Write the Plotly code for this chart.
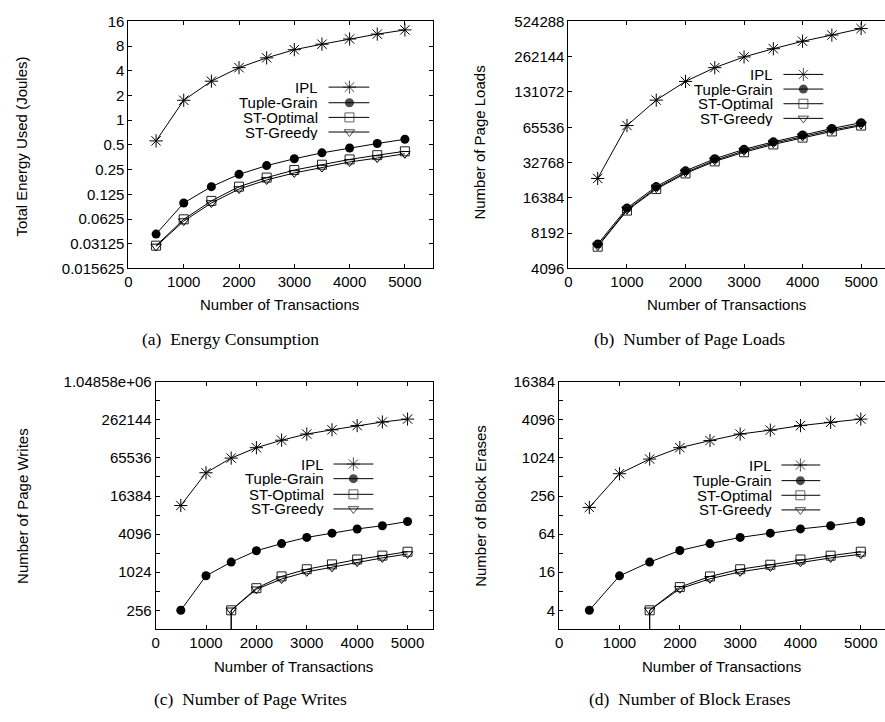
import math
import plotly.graph_objects as go

W, H = 885, 722

# ---------------- data ----------------
transactions = [500, 1000, 1500, 2000, 2500, 3000, 3500, 4000, 4500, 5000]
# ST series in (c)/(d): line drops below the axis floor at 1500
st_transactions = [1500, 1500, 2000, 2500, 3000, 3500, 4000, 4500, 5000]

series_names = ["IPL", "Tuple-Grain", "ST-Optimal", "ST-Greedy"]

# (a) Energy consumption (Joules)
energy_ipl = [0.56, 1.75, 2.99, 4.37, 5.75, 7.23, 8.44, 9.77, 11.2, 12.6]
energy_tuple = [0.041, 0.098, 0.155, 0.219, 0.28, 0.339, 0.40, 0.458, 0.52, 0.586]
energy_opt = [0.0296, 0.062, 0.104, 0.155, 0.20, 0.247, 0.287, 0.333, 0.375, 0.418]
energy_greedy = [0.029, 0.059, 0.098, 0.145, 0.187, 0.228, 0.265, 0.31, 0.346, 0.39]

# (b) Number of page loads
loads_ipl = [23990, 67800, 111700, 161400, 211400, 261000, 306500, 355000, 400900, 455400]
loads_tuple = [6608, 13400, 20450, 27860, 35290, 42500, 49220, 56260, 63960, 71760]
loads_opt = [6278, 12760, 19480, 26470, 33530, 40120, 46760, 53500, 60390, 67770]
loads_greedy = [6370, 13000, 19850, 27000, 34200, 41200, 47900, 54700, 62000, 69000]

# (c) Number of page writes
writes_ipl = [11585, 38180, 65080, 95030, 124850, 156200, 182100, 212400, 241900, 269200]
writes_tuple = [256, 898, 1478, 2235, 2900, 3631, 4234, 4940, 5558, 6481]
writes_opt = [1, 256, 572, 879, 1140, 1361, 1625, 1872, 2157]
writes_greedy = [1, 256, 551, 798, 1036, 1223, 1477, 1723, 1987]

# (d) Number of block erases
erases_ipl = [169, 576, 982, 1485, 1925, 2440, 2811, 3318, 3735, 4205]
erases_tuple = [4, 14.0, 23.1, 35.3, 45.3, 56.7, 66.2, 77.2, 86.8, 101.3]
erases_opt = [0.5, 4, 9.3, 13.7, 17.8, 21.0, 25.4, 29.2, 33.7]
erases_greedy = [0.5, 4, 8.75, 12.6, 16.2, 19.3, 23.1, 26.9, 30.7]

x_ticks = [0, 1000, 2000, 3000, 4000, 5000]

energy_ticks = [0.015625, 0.03125, 0.0625, 0.125, 0.25, 0.5, 1, 2, 4, 8, 16]
energy_labels = ["0.015625", "0.03125", "0.0625", "0.125", "0.25", "0.5", "1", "2", "4", "8", "16"]
loads_ticks = [4096, 8192, 16384, 32768, 65536, 131072, 262144, 524288]
loads_labels = ["4096", "8192", "16384", "32768", "65536", "131072", "262144", "524288"]
writes_ticks = [128, 256, 512, 1024, 2048, 4096, 8192, 16384, 32768, 65536, 131072, 262144, 524288, 1048576]
writes_labels = ["", "256", "", "1024", "", "4096", "", "16384", "", "65536", "", "262144", "", "1.04858e+06"]
erases_ticks = [2, 4, 8, 16, 32, 64, 128, 256, 512, 1024, 2048, 4096, 8192, 16384]
erases_labels = ["", "4", "", "16", "", "64", "", "256", "", "1024", "", "4096", "", "16384"]

# ---------------- styles ----------------
marker_style = {
    "IPL": dict(symbol="asterisk-open", size=11, color="black", line=dict(width=1, color="black")),
    "Tuple-Grain": dict(symbol="circle", size=9, color="black", line=dict(width=0)),
    "ST-Optimal": dict(symbol="square-open", size=9, color="#222", line=dict(width=1, color="#222")),
    "ST-Greedy": dict(symbol="triangle-down-open", size=9, color="black", line=dict(width=1, color="black")),
}

SANS = "Liberation Sans, Arial, Helvetica, sans-serif"
SERIF = "Liberation Serif, Times New Roman, serif"
FS = 15


def px_x(x):
    return x / W


def px_y(y):
    return 1 - y / H


fig = go.Figure()

panels = [
    ("", [transactions] * 4, [energy_ipl, energy_tuple, energy_opt, energy_greedy]),
    ("2", [transactions] * 4, [loads_ipl, loads_tuple, loads_opt, loads_greedy]),
    ("3", [transactions, transactions, st_transactions, st_transactions],
     [writes_ipl, writes_tuple, writes_opt, writes_greedy]),
    ("4", [transactions, transactions, st_transactions, st_transactions],
     [erases_ipl, erases_tuple, erases_opt, erases_greedy]),
]

for suffix, xs, ys in panels:
    for name, xv, yv in zip(series_names, xs, ys):
        fig.add_trace(go.Scatter(
            x=xv, y=yv, name=name, mode="lines+markers",
            line=dict(color="black", width=1),
            marker=marker_style[name],
            xaxis="x" + suffix, yaxis="y" + suffix,
            showlegend=False,
        ))

# ---------------- legend keys (gnuplot style: text, then sample) ----------------
legend_layout = [
    # text right edge, line x0, marker x, line x1, row y positions
    (316, 326, 347, 367, [80, 96, 111, 126]),
    (773, 783, 803, 823, [67, 82, 97, 112]),
    (322, 331, 351, 371, [466, 481, 497, 512]),
    (772, 781, 800, 820, [467, 483, 498, 513]),
]

annotations = []
for tx, lx0, mx, lx1, rows in legend_layout:
    for name, ry in zip(series_names, rows):
        fig.add_trace(go.Scatter(
            x=[lx0, mx, lx1], y=[ry, ry, ry], mode="lines+markers",
            line=dict(color="black", width=1),
            marker=dict(marker_style[name], size=[0, marker_style[name]["size"], 0]),
            xaxis="x5", yaxis="y5", showlegend=False, hoverinfo="skip",
        ))
        annotations.append(dict(
            x=px_x(tx), y=px_y(ry), xref="paper", yref="paper",
            text=name, showarrow=False, xanchor="right", yanchor="middle",
            height=15, valign="middle", borderpad=0,
            font=dict(family=SANS, size=FS, color="black"),
        ))


def xaxis(domain, rng):
    return dict(
        domain=domain, range=rng, tickvals=x_ticks, ticks="inside", ticklen=4,
        tickcolor="black", showline=True, linecolor="black", linewidth=1,
        mirror="ticks", showgrid=False, zeroline=False,
        tickfont=dict(family=SANS, size=FS, color="black"),
    )


def yaxis(domain, anchor, ticks, labels, mirror=True):
    return dict(
        domain=domain, type="log",
        range=[math.log10(ticks[0]), math.log10(ticks[-1])],
        tickvals=ticks, ticktext=labels, ticks="inside", ticklen=4,
        tickcolor="black", showline=True, linecolor="black", linewidth=1,
        mirror="ticks" if mirror else False, showgrid=False, zeroline=False,
        anchor=anchor,
        tickfont=dict(family=SANS, size=FS, color="black"),
    )


top_dom = [px_y(265.7), px_y(12.7)]
bot_dom = [px_y(635.3), px_y(381.7)]

layout = dict(
    width=W, height=H,
    margin=dict(l=0, r=0, t=0, b=0),
    paper_bgcolor="white", plot_bgcolor="rgba(0,0,0,0)",
    showlegend=False,
    xaxis=xaxis([px_x(125), px_x(430.5)], [0, 5500]) | dict(anchor="y"),
    yaxis=yaxis(top_dom, "x", energy_ticks, energy_labels),
    xaxis2=xaxis([px_x(567), 1.0], [0, 5408]) | dict(anchor="y2"),
    yaxis2=yaxis(top_dom, "x2", loads_ticks, loads_labels, mirror=False),
    xaxis3=xaxis([px_x(152.3), px_x(430.7)], [0, 5500]) | dict(anchor="y3"),
    yaxis3=yaxis(bot_dom, "x3", writes_ticks, writes_labels),
    xaxis4=xaxis([px_x(557.7), 1.0], [0, 5401]) | dict(anchor="y4"),
    yaxis4=yaxis(bot_dom, "x4", erases_ticks, erases_labels, mirror=False),
    xaxis5=dict(domain=[0, 1], range=[0, W], visible=False, anchor="y5"),
    yaxis5=dict(domain=[0, 1], range=[H, 0], visible=False, anchor="x5"),
)

# axis titles
titles = [
    ("Number of Transactions", 277, 303, 0),
    ("Number of Transactions", 726, 303, 0),
    ("Number of Transactions", 291, 673, 0),
    ("Number of Transactions", 721, 673, 0),
    ("Total Energy Used (Joules)", 18, 141, -90),
    ("Number of Page Loads", 478, 137, -90),
    ("Number of Page Writes", 18, 509, -90),
    ("Number of Block Erases", 478, 509, -90),
]
for text, x, y, ang in titles:
    annotations.append(dict(
        x=px_x(x), y=px_y(y), xref="paper", yref="paper", text=text,
        showarrow=False, textangle=ang, xanchor="center", yanchor="middle",
        font=dict(family=SANS, size=FS, color="black"),
    ))

captions = [
    ("(a)  Energy Consumption", 228, 338),
    ("(b)  Number of Page Loads", 689, 338),
    ("(c)  Number of Page Writes", 248, 707),
    ("(d)  Number of Block Erases", 689, 707),
]
for text, x, y in captions:
    annotations.append(dict(
        x=px_x(x), y=px_y(y), xref="paper", yref="paper", text=text,
        showarrow=False, xanchor="center", yanchor="middle",
        font=dict(family=SERIF, size=17.5, color="black"),
    ))

layout["annotations"] = annotations
fig.update_layout(layout)
fig.write_html(
    "out.html",
    config={"responsive": False, "displayModeBar": False},
    post_script=(
        "document.documentElement.style.margin='0';"
        "document.documentElement.style.overflow='hidden';"
        "document.body.style.margin='0';"
        "document.body.style.padding='0';"
        "document.body.style.overflow='hidden';"
    ),
)
